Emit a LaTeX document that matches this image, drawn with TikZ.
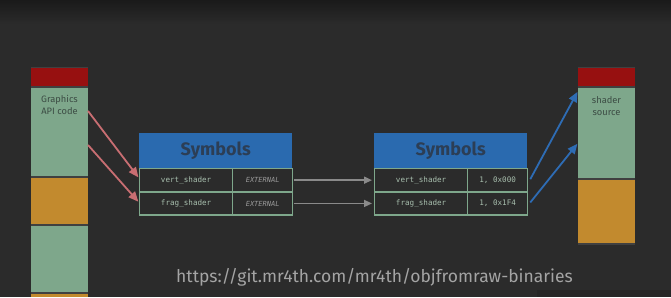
\documentclass[tikz,border=0pt]{standalone}
\usepackage{fontspec}
\setmainfont{Fira Sans}
\newfontfamily\codefont{DejaVu Sans Mono}
\usetikzlibrary{arrows.meta}
\definecolor{bgdark}{HTML}{2B2B2B}
\definecolor{bgtop}{HTML}{1A1A1A}
\definecolor{sep}{HTML}{404040}
\definecolor{blkred}{HTML}{971010}
\definecolor{blkgreen}{HTML}{7EA78B}
\definecolor{blkorange}{HTML}{C28A2E}
\definecolor{symblue}{HTML}{2A6AAF}
\definecolor{symtext}{HTML}{2C3E55}
\definecolor{celltext}{HTML}{A8BFAE}
\definecolor{exttext}{HTML}{9A9A9A}
\definecolor{arrred}{HTML}{C86E72}
\definecolor{arrgray}{HTML}{8A8A8A}
\definecolor{arrblue}{HTML}{2E6CB4}
\definecolor{urltext}{HTML}{A4A4A4}
\definecolor{blocklabel}{HTML}{3C4C44}
\tikzset{
  block/.style={draw=none, inner sep=0pt, anchor=north west, minimum width=57pt},
  blocktext/.style={font=\fontsize{9.3}{11.5}\selectfont, text=blocklabel, align=center},
  header/.style={fill=symblue, draw=none, inner sep=0pt, anchor=north west,
    minimum width=153pt, minimum height=35.7pt, text=symtext,
    font=\fontsize{18}{18}\selectfont\bfseries},
  cell/.style={fill=bgdark, draw=blkgreen, line width=1.3pt, inner sep=0pt,
    anchor=north west, minimum height=23pt, text=celltext,
    font=\codefont\fontsize{7.6}{8}\selectfont},
  namecell/.style={cell, minimum width=93pt},
  valcell/.style={cell, minimum width=60pt},
  extcell/.style={valcell, text=exttext, font=\codefont\itshape\fontsize{7}{8}\selectfont},
  tip/.style={-{Triangle[length=10pt,width=8.5pt]}, line width=1.8pt, shorten >=1pt},
  grayarrow/.style={arrgray, line width=1.6pt, -{Triangle[length=8pt,width=7pt]}},
}
\begin{document}
\begin{tikzpicture}[x=1pt,y=-1pt]
% background
\fill[bgdark] (0,0) rectangle (671,297);
\shade[top color=bgtop, bottom color=bgdark] (0,0) rectangle (671,24);
\fill[black!85] (537,290) rectangle (671,297);

% left memory column
\fill[sep] (31,67.3) rectangle (88,297);
\node[block, fill=blkred, minimum height=18pt] (lred) at (31,67.3) {};
\node[block, fill=blkgreen, minimum height=88pt] (lgreenA) at (31,87.3) {};
\node[block, fill=blkorange, minimum height=46.7pt] (lorangeA) at (31,177.3) {};
\node[block, fill=blkgreen, minimum height=66pt] (lgreenB) at (31,226) {};
\node[block, fill=blkorange, minimum height=3pt] (lorangeB) at (31,294) {};
\node[blocktext] (llabel) at (59.5,105) {Graphics\\API code};

% right memory column
\fill[sep] (578,67.3) rectangle (635,245.3);
\node[block, fill=blkred, minimum height=18pt] (rred) at (578,67.3) {};
\node[block, fill=blkgreen, minimum height=90pt] (rgreen) at (578,87.3) {};
\node[block, fill=blkorange, minimum height=63.4pt] (rorange) at (578,179.3) {};
\node[blocktext] (rlabel) at (606.5,106) {shader\\source};

% first symbol table
\node[header] (hA) at (139,132.3) {Symbols};
\node[namecell] (aOneName) at (139,168) {vert\_shader};
\node[extcell] (aOneVal) at (232,168) {EXTERNAL};
\node[namecell] (aTwoName) at (139,191.3) {frag\_shader};
\node[extcell] (aTwoVal) at (232,191.3) {EXTERNAL};

% second symbol table
\node[header] (hB) at (374,132.3) {Symbols};
\node[namecell] (bOneName) at (374,168) {vert\_shader};
\node[valcell] (bOneVal) at (467,168) {1, 0x000};
\node[namecell] (bTwoName) at (374,191.3) {frag\_shader};
\node[valcell] (bTwoVal) at (467,191.3) {1, 0x1F4};

% connectors
\coordinate (srcA) at (88,111);
\coordinate (srcB) at (88,145);
\coordinate (dstA) at (578,91);
\coordinate (dstB) at (578,143);
\draw[tip, arrred] (srcA) -- ([yshift=2pt]aOneName.west);
\draw[tip, arrred] (srcB) -- ([yshift=1pt]aTwoName.west);
\draw[grayarrow] ([xshift=1pt]aOneVal.east) -- ([xshift=-2pt]bOneName.west);
\draw[grayarrow] ([xshift=1pt]aTwoVal.east) -- ([xshift=-2pt]bTwoName.west);
\draw[tip, arrblue] ([xshift=2pt,yshift=1pt]bOneVal.east) -- (dstA);
\draw[tip, arrblue] ([xshift=2pt,yshift=1pt]bTwoVal.east) -- (dstB);

% link
\node[text=urltext, font=\fontsize{17.5}{19}\selectfont] (url) at (374.5,277)
  {https://git.mr4th.com/mr4th/objfromraw-binaries};
\end{tikzpicture}
\end{document}
